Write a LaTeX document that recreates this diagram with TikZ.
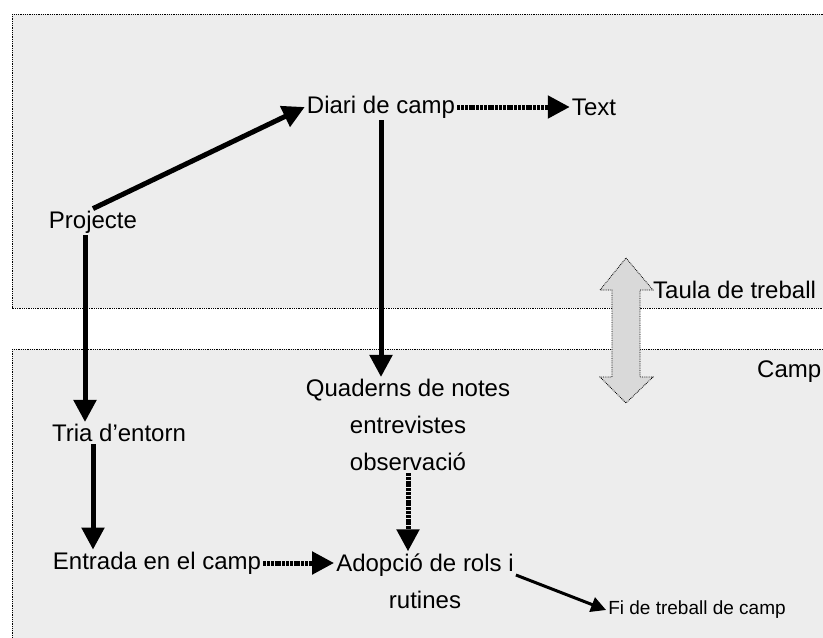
\documentclass[tikz,border=0pt]{standalone}
\usepackage{fontspec}
\setmainfont{Liberation Sans}
\usetikzlibrary{arrows.meta}

\begin{document}
\begin{tikzpicture}[x=1pt,y=-1pt]
    \tikzstyle{area}=[draw,densely dotted,line width=0.8pt,fill=gray!14];
    \tikzstyle{lbl}=[inner sep=2pt,font=\fontsize{24}{37}\selectfont,align=center];
    \tikzstyle{small}=[inner sep=2pt,font=\fontsize{19}{22}\selectfont];
    \tikzstyle{bigarrow}=[line width=5pt,-{Triangle[length=22pt,width=22pt]}];
    \tikzstyle{hatched}=[bigarrow,dash pattern=on 3pt off 0.8pt];
    \tikzstyle{thinarrow}=[line width=3pt,-{Triangle[length=15pt,width=15pt]}];
    \tikzstyle{twoway}=[draw,densely dotted,line width=0.8pt,fill=gray!30];

    \useasboundingbox (0,0) rectangle (823,638);
    \clip (0,0) rectangle (823,638);
    \path[area] (12,14) rectangle (840,308);
    \path[area] (12,349) rectangle (840,660);

    \path[twoway] (626,258) -- (653,290) -- (640,290) -- (640,377) --
    (653,377) -- (626,403) -- (600,377) -- (612,377) -- (612,290) --
    (600,290) -- cycle;

    \node (diari) [lbl] at (381,107) {Diari de camp}; \node (text)
    [lbl] at (594,107) {Text}; \node (projecte) [lbl] at (93,222)
    {Projecte};

    \node (tria) [lbl] at (119,433) {Tria d'entorn}; \node (entrada)
    [lbl] at (157,563) {Entrada en el camp};

    \node (quaderns) [lbl] at (408,425) {Quaderns de notes\\entrevistes\\observació};
    \node (adopcio) [lbl] at (425,581) {Adopció de rols i\\rutines};
    \node (fi) [small] at (697,610) {Fi de treball de camp};

    \node (taula) [lbl,anchor=west] at (651,290) {Taula de treball};
    \node (camp) [lbl,anchor=west] at (755,372) {Camp};

    \path (projecte.north) edge[bigarrow] (diari.west) (diari.east)
    edge[hatched] (text.west) (diari.south) edge[bigarrow] (diari.south
    |- quaderns.north) ([xshift=-8pt]projecte.south) edge[bigarrow]
    ([xshift=-8pt]projecte.south |- tria.north)

    ([xshift=-26pt]tria.south) edge[bigarrow] ([xshift=-26pt]tria.south
    |- entrada.north) (entrada.east) edge[hatched] (entrada.east -|
    adopcio.west) (quaderns.south) edge[hatched] (quaderns.south |-
    adopcio.north)

    ([yshift=6pt]adopcio.east) edge[thinarrow] (fi.west) ;
\end{tikzpicture}
\end{document}
